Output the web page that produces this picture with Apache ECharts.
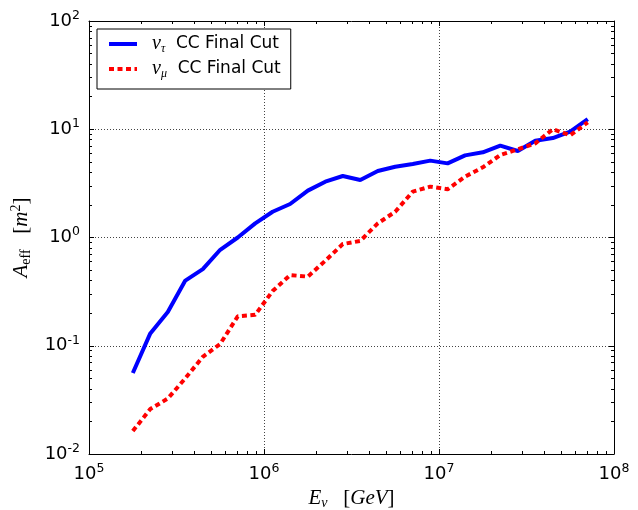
<!DOCTYPE html>
<html><head><meta charset="utf-8">
<script src="https://cdn.jsdelivr.net/npm/echarts@6/dist/echarts.min.js"></script>
<style>html,body{margin:0;padding:0;background:#fff}#c{width:638px;height:510px}</style>
</head><body><div id="c"></div>
<script>
// Bin-centre energies [GeV]
const energies = [1.78e5, 2.24e5, 2.82e5, 3.55e5, 4.47e5, 5.62e5, 7.08e5, 8.91e5,
  1.12e6, 1.41e6, 1.78e6, 2.24e6, 2.82e6, 3.55e6, 4.47e6, 5.62e6, 7.08e6, 8.91e6,
  1.12e7, 1.41e7, 1.78e7, 2.24e7, 2.82e7, 3.55e7, 4.47e7, 5.62e7, 7.08e7];
// Effective area [m^2]
const nuTau = [0.056, 0.130, 0.205, 0.40, 0.51, 0.77, 1.0, 1.35, 1.73, 2.04, 2.71, 3.28,
  3.70, 3.40, 4.11, 4.51, 4.78, 5.13, 4.84, 5.74, 6.12, 7.05, 6.3, 7.84, 8.3, 9.5, 12.4];
const nuMu = [0.0163, 0.026, 0.0325, 0.050, 0.079, 0.104, 0.187, 0.193, 0.32, 0.45, 0.435, 0.61,
  0.87, 0.93, 1.35, 1.73, 2.65, 2.95, 2.79, 3.65, 4.45, 5.78, 6.53, 7.41, 10.0, 8.8, 11.6];
const seriesNames = ['tau', 'mu'];
const xMajorTicks = [1e5, 1e6, 1e7, 1e8];
const yMajorTicks = [1e-2, 1e-1, 1, 10, 100];
const minorMultipliers = [2, 3, 4, 5, 6, 7, 8, 9];

function minorList(majors) {
  const out = [];
  for (let i = 0; i < majors.length - 1; i++) minorMultipliers.forEach(m => out.push(majors[i] * m));
  return out;
}
const xMinorTicks = minorList(xMajorTicks);
const yMinorTicks = minorList(yMajorTicks);

const tickRich = {
  b: { fontFamily: 'DejaVu Sans', fontSize: 18, lineHeight: 24, color: '#000' },
  s: { fontFamily: 'DejaVu Sans', fontSize: 12.5, lineHeight: 12, verticalAlign: 'top', color: '#000' }
};
const powLabel = v => '{b|10}{s|' + Math.round(Math.log10(v)) + '}';
const mathRich = {
  a: { fontFamily: 'Liberation Serif', fontStyle: 'italic', fontSize: 21, lineHeight: 24, color: '#000' },
  sub: { fontFamily: 'Liberation Serif', fontSize: 14, lineHeight: 12, verticalAlign: 'bottom', color: '#000' },
  subi: { fontFamily: 'Liberation Serif', fontStyle: 'italic', fontSize: 14, lineHeight: 12, verticalAlign: 'bottom', color: '#000' },
  sup: { fontFamily: 'Liberation Serif', fontSize: 14, lineHeight: 12, verticalAlign: 'top', color: '#000' },
  br: { fontFamily: 'Liberation Serif', fontSize: 21, lineHeight: 24, color: '#000' },
  sp: { fontFamily: 'Liberation Serif', fontSize: 21, lineHeight: 24, color: '#000' }
};

function xAx(pos, major, withLabels) {
  return {
    type: 'log', logBase: 10, min: 1e5, max: 1e8, position: pos, gridIndex: 0,
    axisLine: { show: major, onZero: false, lineStyle: { color: '#000', width: 1 } },
    axisTick: major ? { show: true, inside: true, length: 5, customValues: xMajorTicks, lineStyle: { color: '#000' } }
                    : { show: true, inside: true, length: 3, customValues: xMinorTicks, lineStyle: { color: '#000' } },
    axisLabel: withLabels ? { show: true, customValues: xMajorTicks, formatter: powLabel, rich: tickRich, margin: 8 } : { show: false },
    splitLine: { show: withLabels, lineStyle: { type: [1, 2], color: '#444', width: 1 } },
    minorTick: { show: false }, minorSplitLine: { show: false }
  };
}
function yAx(pos, major, withLabels) {
  return {
    type: 'log', logBase: 10, min: 1e-2, max: 1e2, position: pos, gridIndex: 0,
    axisLine: { show: major, onZero: false, lineStyle: { color: '#000', width: 1 } },
    axisTick: major ? { show: true, inside: true, length: 5, customValues: yMajorTicks, lineStyle: { color: '#000' } }
                    : { show: true, inside: true, length: 3, customValues: yMinorTicks, lineStyle: { color: '#000' } },
    axisLabel: withLabels ? { show: true, customValues: yMajorTicks, formatter: powLabel, rich: tickRich, margin: 9 } : { show: false },
    splitLine: { show: withLabels, lineStyle: { type: [1, 2], color: '#444', width: 1 } },
    minorTick: { show: false }, minorSplitLine: { show: false }
  };
}

const xAxes = [xAx('bottom', true, true), xAx('bottom', false, false), xAx('top', true, false), xAx('top', false, false)];
xAxes[0].name = '{a|E}{subi|ν}{sp|   }{br|[}{a|GeV}{br|]}';
xAxes[0].nameLocation = 'middle';
xAxes[0].nameGap = 31;
xAxes[0].nameTextStyle = { rich: mathRich };
const yAxes = [yAx('left', true, true), yAx('left', false, false), yAx('right', true, false), yAx('right', false, false)];
yAxes[0].name = '{a|A}{sub|eff}{sp|   }{br|[}{a|m}{sup|2}{br|]}';
yAxes[0].nameLocation = 'middle';
yAxes[0].nameGap = 46;
yAxes[0].nameTextStyle = { rich: mathRich };

const legendRich = {
  nu: { fontFamily: 'Liberation Serif', fontStyle: 'italic', fontSize: 20, lineHeight: 22, padding: [0, 0, 0, 10], color: '#000' },
  sb: { fontFamily: 'Liberation Serif', fontStyle: 'italic', fontSize: 12, lineHeight: 10, verticalAlign: 'bottom', color: '#000' },
  t: { fontFamily: 'DejaVu Sans', fontSize: 17, lineHeight: 22, color: '#000' }
};
const legendLabels = { tau: '{nu|ν}{sb|τ}{t|  CC Final Cut}', mu: '{nu|ν}{sb|μ}{t|  CC Final Cut}' };

const chart = echarts.init(document.getElementById('c'), null, { renderer: 'canvas' });
chart.setOption({
  animation: false,
  backgroundColor: '#fff',
  grid: { left: 89, right: 24, top: 21, bottom: 56, containLabel: false, outerBoundsMode: 'none' },
  xAxis: xAxes,
  yAxis: yAxes,
  legend: {
    data: seriesNames, orient: 'vertical', left: 97, top: 29,
    backgroundColor: '#fff', borderColor: '#000', borderWidth: 1, borderRadius: 0,
    padding: [5, 10, 9, 10], itemGap: 4, itemWidth: 28, itemHeight: 12,
    itemStyle: { opacity: 0, borderWidth: 0 },
    lineStyle: { width: 4 },
    formatter: n => legendLabels[n],
    textStyle: { rich: legendRich }
  },
  series: [
    { name: seriesNames[0], type: 'line', xAxisIndex: 0, yAxisIndex: 0, symbol: 'none', showSymbol: false,
      data: energies.map((e, i) => [e, nuTau[i]]),
      lineStyle: { color: '#0000ff', width: 4 }, itemStyle: { color: '#0000ff' } },
    { name: seriesNames[1], type: 'line', xAxisIndex: 0, yAxisIndex: 0, symbol: 'none', showSymbol: false,
      data: energies.map((e, i) => [e, nuMu[i]]),
      lineStyle: { color: '#ff0000', width: 4, type: [5, 3.5] }, itemStyle: { color: '#ff0000' } }
  ]
});
</script></body></html>
